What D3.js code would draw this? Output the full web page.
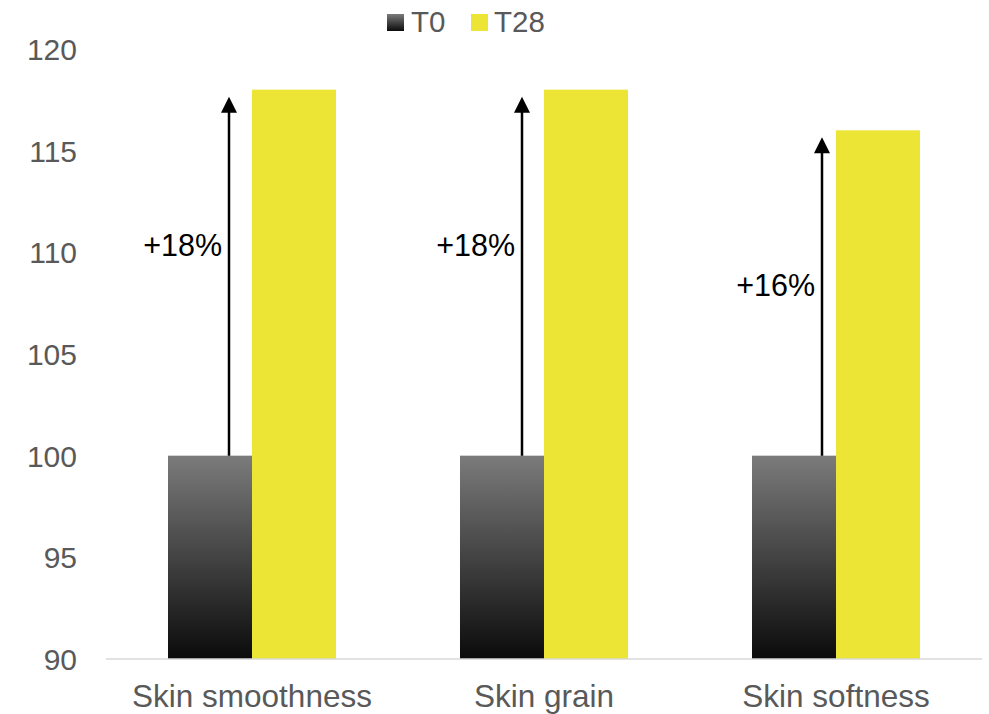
<!DOCTYPE html>
<html>
<head>
<meta charset="utf-8">
<script src="https://cdn.jsdelivr.net/npm/d3@7"></script>
<style>
  html, body { margin: 0; padding: 0; background: #ffffff; }
  svg { display: block; font-family: "Liberation Sans", Arial, sans-serif; }
</style>
</head>
<body>
<svg id="chart" width="989" height="714"></svg>
<script>
const categories = ["Skin smoothness", "Skin grain", "Skin softness"];
const seriesNames = ["T0", "T28"];
const t0Values = [100, 100, 100];
const t28Values = [118, 118, 116];
const changeLabels = ["+18%", "+18%", "+16%"];
const yTicks = [90, 95, 100, 105, 110, 115, 120];
// annotation arrow distance left of the T28 bar (px)
const arrowGap = [23, 22, 14];

const svg = d3.select("#chart");
const plot = { left: 106, right: 982, top: 49, bottom: 659 };

const defs = svg.append("defs");
const grad = defs.append("linearGradient")
  .attr("id", "gradT0").attr("x1", 0).attr("y1", 0).attr("x2", 0).attr("y2", 1);
grad.append("stop").attr("offset", "0%").attr("stop-color", "#7b7b7b");
grad.append("stop").attr("offset", "100%").attr("stop-color", "#0b0b0b");

const colors = { T0: "url(#gradT0)", T28: "#ece535" };

const x0 = d3.scaleBand().domain(categories).range([plot.left, plot.right]).padding(0);
const bw = x0.bandwidth();
const x1 = d3.scaleBand().domain(seriesNames)
  .range([bw * 0.2123, bw * (1 - 0.2123)]).padding(0);
const y = d3.scaleLinear().domain([90, 120]).range([plot.bottom, plot.top]);

const data = categories.map((c, i) => ({
  cat: c, values: [{ s: "T0", v: t0Values[i] }, { s: "T28", v: t28Values[i] }],
  t0: t0Values[i], t28: t28Values[i], label: changeLabels[i], gap: arrowGap[i]
}));

// y axis labels
const yAxis = d3.axisLeft(y).tickValues(yTicks).tickSize(0).tickPadding(0);
const gy = svg.append("g").attr("transform", `translate(77,0)`).call(yAxis);
gy.select(".domain").remove();
gy.selectAll("text")
  .attr("font-size", 30).attr("fill", "#595959")
  .attr("font-family", "'Liberation Sans', Arial, sans-serif")
  .attr("dy", "0.35em");

// bars
const groups = svg.append("g").selectAll("g").data(data).join("g")
  .attr("transform", d => `translate(${x0(d.cat)},0)`);
groups.selectAll("rect").data(d => d.values).join("rect")
  .attr("x", d => x1(d.s))
  .attr("width", x1.bandwidth())
  .attr("y", d => y(d.v))
  .attr("height", d => y(90) - y(d.v))
  .attr("fill", d => colors[d.s]);

// x axis line
svg.append("line")
  .attr("x1", plot.left).attr("x2", plot.right)
  .attr("y1", y(90)).attr("y2", y(90))
  .attr("stroke", "#d9d9d9").attr("stroke-width", 1.5);

// x labels
const xAxis = d3.axisBottom(x0).tickSize(0).tickPadding(0);
const gx = svg.append("g").attr("transform", `translate(0,${y(90)})`).call(xAxis);
gx.select(".domain").remove();
gx.selectAll("text")
  .attr("font-size", 31.5).attr("fill", "#595959")
  .attr("font-family", "'Liberation Sans', Arial, sans-serif")
  .attr("dy", null).attr("y", 48);

// arrows
const arrowX = d => x0(d.cat) + x1("T28") - d.gap;
const ann = svg.append("g").selectAll("g").data(data).join("g");
ann.append("line")
  .attr("x1", arrowX).attr("x2", arrowX)
  .attr("y1", d => y(d.t0))
  .attr("y2", d => y(d.t28) + 14)
  .attr("stroke", "#000").attr("stroke-width", 2.5);
ann.append("path")
  .attr("d", d => {
    const ax = arrowX(d), tip = y(d.t28) + 7;
    return `M${ax},${tip} L${ax - 8},${tip + 16} L${ax + 8},${tip + 16} Z`;
  })
  .attr("fill", "#000");
ann.append("text")
  .attr("x", d => arrowX(d) - 7)
  .attr("y", d => y(d.t28) + 166)
  .attr("text-anchor", "end")
  .attr("font-size", 30.5).attr("fill", "#000")
  .text(d => d.label);

// legend
const legend = svg.append("g");
const legendItems = [
  { s: "T0", sx: 387, tx: 411 },
  { s: "T28", sx: 471, tx: 494 }
];
legendItems.forEach(it => {
  legend.append("rect").attr("x", it.sx).attr("y", 14).attr("width", 17).attr("height", 17)
    .attr("fill", colors[it.s]);
  legend.append("text").attr("x", it.tx).attr("y", 32)
    .attr("font-size", 29.5).attr("fill", "#595959").text(it.s);
});
</script>
</body>
</html>
